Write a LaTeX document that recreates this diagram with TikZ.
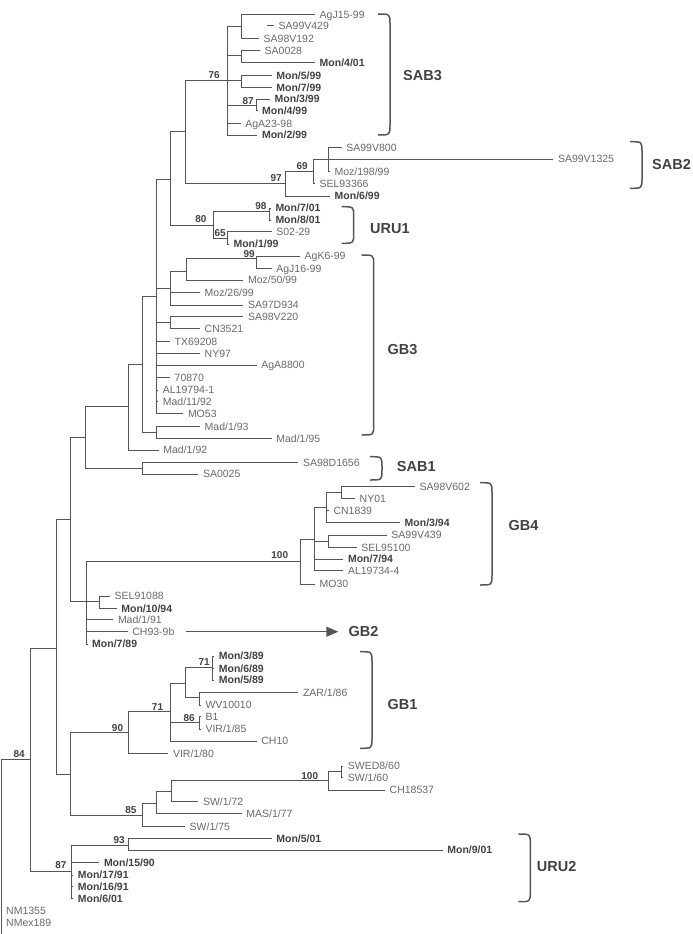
\documentclass[tikz,border=0pt]{standalone}
\usepackage{fontspec}
\setmainfont{Liberation Sans}
\usetikzlibrary{arrows.meta}

\begin{document}
\begin{tikzpicture}[x=1pt, y=-1pt,
    branch/.style={line width=1pt, color=treegray},
    leaf/.style={anchor=west, inner xsep=4.5pt, inner ysep=0pt, text height=7.5pt, text depth=0pt,
        font=\fontsize{10.5}{12}\selectfont, text=leafgray},
    bleaf/.style={leaf, font=\fontsize{10.5}{12}\selectfont\bfseries, text=darkgray},
    boot/.style={anchor=base east, inner sep=0pt, font=\fontsize{10}{12}\selectfont\bfseries, text=darkgray},
    clade/.style={anchor=west, inner sep=0pt, text height=10.4pt, text depth=0pt,
        font=\fontsize{14.5}{17}\selectfont\bfseries, text=darkgray},
    brk/.style={line width=1.5pt, color=treegray, to path={.. controls ([xshift=12pt]\tikztostart)
        .. ([xshift=12pt,yshift=-10pt]\tikztostart) -- ([xshift=12pt,yshift=10pt]\tikztotarget)
        .. controls ([xshift=12pt]\tikztotarget) .. (\tikztotarget)}}]
    \definecolor{treegray}{RGB}{85,85,85}
    \definecolor{leafgray}{RGB}{105,105,105}
    \definecolor{darkgray}{RGB}{65,65,65}

    \useasboundingbox (0,0) rectangle (693,934);

    % inner nodes
    \coordinate (root) at (1.5,759);
    \coordinate (n30) at (30,759);
    \coordinate (n57) at (56.7,648);
    \coordinate (n71a) at (70.7,519);
    \coordinate (n85a) at (85,437);
    \coordinate (n128) at (128.3,406.7);
    \coordinate (n143) at (142.7,364.5);
    \coordinate (n157) at (156.7,296.7);
    \coordinate (n171) at (170.7,179);
    \coordinate (n185) at (185,131.5);
    \coordinate (sab3n) at (227.3,80.5);
    \coordinate (ca) at (241.7,26.7);
    \coordinate (cb) at (241.7,56);
    \coordinate (cc) at (241.7,80.5);
    \coordinate (c87) at (256,105.3);
    \coordinate (sab2n) at (285,183.3);
    \coordinate (c69) at (313.3,171.7);
    \coordinate (c328) at (328.3,159);
    \coordinate (uru1n) at (213.3,225.7);
    \coordinate (c98) at (269.3,211);
    \coordinate (c65) at (227.3,238.3);
    \coordinate (cmoz) at (170,288.3);
    \coordinate (c186) at (186,271);
    \coordinate (c99) at (256.7,258.3);
    \coordinate (csa98) at (170,322.3);
    \coordinate (n157b) at (156.7,432.5);
    \coordinate (sab1n) at (142.7,468.3);
    \coordinate (n86) at (86,601.7);
    \coordinate (gb4n) at (300,561.7);
    \coordinate (c314) at (314,539);
    \coordinate (c327) at (326.7,507);
    \coordinate (c342) at (341.7,492);
    \coordinate (csa99) at (328.3,541);
    \coordinate (csel) at (99.3,601.7);
    \coordinate (n71b) at (70.7,774);
    \coordinate (gb1n) at (128.3,732.7);
    \coordinate (c71) at (170.7,711.7);
    \coordinate (c185) at (185,683);
    \coordinate (c71b) at (212.7,667.3);
    \coordinate (czar) at (199.3,697.5);
    \coordinate (c86) at (199.3,722.7);
    \coordinate (c85) at (142.7,815);
    \coordinate (cmas) at (156.7,803);
    \coordinate (csw72) at (171.7,791.5);
    \coordinate (c100b) at (328.3,780.7);
    \coordinate (c342b) at (341.7,771.7);
    \coordinate (uru2n) at (71.7,871.7);
    \coordinate (c93) at (128.3,845);
    \coordinate (rootend) at (1.5,934);
    \coordinate (sa429s) at (266.7,26);

    % leaves
    \node[leaf] (agj15) at (315,14.3) {AgJ15-99};
    \node[leaf] (sa99v429) at (274,26) {SA99V429};
    \node[leaf] (sa98v192) at (259,38.3) {SA98V192};
    \node[leaf] (sa0028) at (260,50.7) {SA0028};
    \node[bleaf] (mon401) at (315,62.3) {Mon/4/01};
    \node[bleaf] (mon599) at (271.7,75.3) {Mon/5/99};
    \node[bleaf] (mon799) at (271.7,87.3) {Mon/7/99};
    \node[bleaf] (mon399) at (270,99) {Mon/3/99};
    \node[bleaf] (mon499) at (257.5,110.7) {Mon/4/99};
    \node[leaf] (aga2398) at (240.7,123.3) {AgA23-98};
    \node[bleaf] (mon299) at (257.3,135) {Mon/2/99};
    \node[leaf] (sa99v800) at (341.7,147.3) {SA99V800};
    \node[leaf] (sa99v1325) at (553.3,159) {SA99V1325};
    \node[leaf] (moz19899) at (329.8,171.7) {Moz/198/99};
    \node[leaf] (sel93366) at (314.8,183.3) {SEL93366};
    \node[bleaf] (mon699) at (330,196) {Mon/6/99};
    \node[bleaf] (mon701) at (270.8,208) {Mon/7/01};
    \node[bleaf] (mon801) at (270.8,220) {Mon/8/01};
    \node[leaf] (s0229) at (271.7,231.7) {S02-29};
    \node[bleaf] (mon199) at (228.8,244) {Mon/1/99};
    \node[leaf] (agk699) at (300,256) {AgK6-99};
    \node[leaf] (agj1699) at (271.7,268.3) {AgJ16-99};
    \node[leaf] (moz5099) at (243.3,280) {Moz/50/99};
    \node[leaf] (moz2699) at (200,292.3) {Moz/26/99};
    \node[leaf] (sa97d934) at (243.3,305) {SA97D934};
    \node[leaf] (sa98v220) at (243.3,316.7) {SA98V220};
    \node[leaf] (cn3521) at (200,328.3) {CN3521};
    \node[leaf] (tx69208) at (170,341.7) {TX69208};
    \node[leaf] (ny97) at (200,353.3) {NY97};
    \node[leaf] (aga8800) at (256.7,365) {AgA8800};
    \node[leaf] (n70870) at (170,377.7) {70870};
    \node[leaf] (al197941) at (158.2,390) {AL19794-1};
    \node[leaf] (mad1192) at (158.2,401.7) {Mad/11/92};
    \node[leaf] (mo53) at (183.3,413.3) {MO53};
    \node[leaf] (mad193) at (200,426.7) {Mad/1/93};
    \node[leaf] (mad195) at (271.7,438.3) {Mad/1/95};
    \node[leaf] (mad192) at (158.7,450) {Mad/1/92};
    \node[leaf] (sa98d1656) at (298.3,462.7) {SA98D1656};
    \node[leaf] (sa0025) at (198.3,474) {SA0025};
    \node[leaf] (sa98v602) at (415,486.7) {SA98V602};
    \node[leaf] (ny01) at (355,498.3) {NY01};
    \node[leaf] (cn1839) at (328.8,510.7) {CN1839};
    \node[bleaf] (mon394) at (400,522.7) {Mon/3/94};
    \node[leaf] (sa99v439) at (386.7,535) {SA99V439};
    \node[leaf] (sel95100) at (356.7,547.3) {SEL95100};
    \node[bleaf] (mon794) at (343.3,559) {Mon/7/94};
    \node[leaf] (al197344) at (343.3,570.7) {AL19734-4};
    \node[leaf] (mo30) at (315,584) {MO30};
    \node[leaf] (sel91088) at (110,596) {SEL91088};
    \node[bleaf] (mon1094) at (116.7,608.3) {Mon/10/94};
    \node[leaf] (mad191) at (113.3,619.3) {Mad/1/91};
    \node[leaf] (ch939b) at (127.7,631.7) {CH93-9b};
    \node[bleaf] (mon789) at (87.5,644) {Mon/7/89};
    \node[bleaf] (mon389) at (214.2,656) {Mon/3/89};
    \node[bleaf] (mon689) at (214.2,668.3) {Mon/6/89};
    \node[bleaf] (mon589) at (214.2,680) {Mon/5/89};
    \node[leaf] (zar186) at (298.3,692.3) {ZAR/1/86};
    \node[leaf] (wv10010) at (200.8,705) {WV10010};
    \node[leaf] (b1) at (200.8,716.7) {B1};
    \node[leaf] (vir185) at (200.8,729) {VIR/1/85};
    \node[leaf] (ch10) at (256.7,741) {CH10};
    \node[leaf] (vir180) at (168.3,753.3) {VIR/1/80};
    \node[leaf] (swed860) at (343.2,766) {SWED8/60};
    \node[leaf] (sw160) at (343.2,777.3) {SW/1/60};
    \node[leaf] (ch18537) at (385,790) {CH18537};
    \node[leaf] (sw172) at (198.3,801.7) {SW/1/72};
    \node[leaf] (mas177) at (241.7,813.3) {MAS/1/77};
    \node[leaf] (sw175) at (185,826.7) {SW/1/75};
    \node[bleaf] (mon501) at (271.7,838.3) {Mon/5/01};
    \node[bleaf] (mon901) at (442.7,850) {Mon/9/01};
    \node[bleaf] (mon1590) at (99.3,862.7) {Mon/15/90};
    \node[bleaf] (mon1791) at (73.2,875) {Mon/17/91};
    \node[bleaf] (mon1691) at (73.2,886.7) {Mon/16/91};
    \node[bleaf] (mon601) at (73.2,898.7) {Mon/6/01};
    \node[leaf] (nm1355) at (1.5,910.7) {NM1355};
    \node[leaf] (nmex189) at (1.5,922.7) {NMex189};

    % branches
    \begin{scope}[branch]
    \draw (root) -- (n30) (root) -- (rootend);
    \draw (root) |- (nm1355.west) (root) |- (nmex189.west);
    \draw (n30) |- (n57) (n30) |- (uru2n);
    \draw (n57) |- (n71a) (n57) |- (n71b);
    \draw (n71a) |- (n85a) (n71a) |- (n86);
    \draw (n85a) |- (n128) (n85a) |- (sab1n);
    \draw (n128) |- (n143) (n128) |- (mad192.west);
    \draw (n143) |- (n157) (n143) |- (n157b);
    \draw (n157) |- (n171) (n157) |- (cmoz) (n157) |- (csa98);
    \draw (n157) |- (tx69208.west) (n157) |- (ny97.west) (n157) |- (aga8800.west);
    \draw (n157) |- (n70870.west) (n157) |- (al197941.west) (n157) |- (mad1192.west) (n157) |- (mo53.west);
    \draw (n171) |- (n185) (n171) |- (uru1n);
    \draw (n185) |- (sab3n) (n185) |- (sab2n);
    \draw (sab3n) |- (ca) (sab3n) |- (cb) (sab3n) |- (cc) (sab3n) |- (c87);
    \draw (sab3n) |- (aga2398.west) (sab3n) |- (mon299.west);
    \draw (ca) |- (agj15.west) (ca) |- (sa98v192.west) (sa429s) -- (sa99v429.west);
    \draw (cb) |- (sa0028.west) (cb) |- (mon401.west);
    \draw (cc) |- (mon599.west) (cc) |- (mon799.west);
    \draw (c87) |- (mon399.west) (c87) |- (mon499.west);
    \draw (sab2n) |- (c69) (sab2n) |- (mon699.west);
    \draw (c69) |- (c328) (c69) |- (sel93366.west);
    \draw (c328) |- (sa99v800.west) (c328) |- (sa99v1325.west) (c328) |- (moz19899.west);
    \draw (uru1n) |- (c98) (uru1n) |- (c65);
    \draw (c98) |- (mon701.west) (c98) |- (mon801.west);
    \draw (c65) |- (s0229.west) (c65) |- (mon199.west);
    \draw (cmoz) |- (c186) (cmoz) |- (moz2699.west) (cmoz) |- (sa97d934.west);
    \draw (c186) |- (c99) (c186) |- (moz5099.west);
    \draw (c99) |- (agk699.west) (c99) |- (agj1699.west);
    \draw (csa98) |- (sa98v220.west) (csa98) |- (cn3521.west);
    \draw (n157b) |- (mad193.west) (n157b) |- (mad195.west);
    \draw (sab1n) |- (sa98d1656.west) (sab1n) |- (sa0025.west);
    \draw (n86) |- (gb4n) (n86) |- (csel);
    \draw (n86) |- (mad191.west) (n86) |- (ch939b.west) (n86) |- (mon789.west);
    \draw (csel) |- (sel91088.west) (csel) |- (mon1094.west);
    \draw (gb4n) |- (c314) (gb4n) |- (mo30.west);
    \draw (c314) |- (c327) (c314) |- (csa99) (c314) |- (mon794.west) (c314) |- (al197344.west);
    \draw (c327) |- (c342) (c327) |- (cn1839.west) (c327) |- (mon394.west);
    \draw (c342) |- (sa98v602.west) (c342) |- (ny01.west);
    \draw (csa99) |- (sa99v439.west) (csa99) |- (sel95100.west);
    \draw (n71b) |- (gb1n) (n71b) |- (c85);
    \draw (gb1n) |- (c71) (gb1n) |- (vir180.west);
    \draw (c71) |- (c185) (c71) |- (c86) (c71) |- (ch10.west);
    \draw (c185) |- (c71b) (c185) |- (czar);
    \draw (c71b) |- (mon389.west) (c71b) |- (mon689.west) (c71b) |- (mon589.west);
    \draw (czar) |- (zar186.west) (czar) |- (wv10010.west);
    \draw (c86) |- (b1.west) (c86) |- (vir185.west);
    \draw (c85) |- (cmas) (c85) |- (sw175.west);
    \draw (cmas) |- (csw72) (cmas) |- (mas177.west);
    \draw (csw72) |- (c100b) (csw72) |- (sw172.west);
    \draw (c100b) |- (c342b) (c100b) |- (ch18537.west);
    \draw (c342b) |- (swed860.west) (c342b) |- (sw160.west);
    \draw (uru2n) |- (c93) (uru2n) |- (mon1590.west) (uru2n) |- (mon1791.west);
    \draw (uru2n) |- (mon1691.west) (uru2n) |- (mon601.west);
    \draw (c93) |- (mon501.west) (c93) |- (mon901.west);
    \end{scope}

    % bootstrap values
    \node[boot] (b76) at (220,78) {76};
    \node[boot] (b87a) at (254,104) {87};
    \node[boot] (b97) at (282,181) {97};
    \node[boot] (b69) at (308,169.5) {69};
    \node[boot] (b98) at (266.7,209.5) {98};
    \node[boot] (b80) at (206.7,222) {80};
    \node[boot] (b65) at (226,236.5) {65};
    \node[boot] (b99) at (255,257) {99};
    \node[boot] (b100a) at (288.3,558) {100};
    \node[boot] (b71a) at (210,665.5) {71};
    \node[boot] (b71b) at (163.3,710) {71};
    \node[boot] (b86) at (195,721) {86};
    \node[boot] (b90) at (123.3,731) {90};
    \node[boot] (b84) at (25,757) {84};
    \node[boot] (b100b) at (318.3,779) {100};
    \node[boot] (b85) at (136.7,813) {85};
    \node[boot] (b93) at (125,843) {93};
    \node[boot] (b87b) at (66.7,868) {87};

    % clades
    \draw[brk] (378,14) to (378,135);
    \node[clade] (sab3) at (403,75) {SAB3};
    \draw[brk] (630,141.7) to (630,188.3);
    \node[clade] (sab2) at (652,164) {SAB2};
    \draw[brk] (341.7,206.7) to (341.7,243.3);
    \node[clade] (uru1) at (370,228) {URU1};
    \draw[brk] (361.7,255) to (361.7,435);
    \node[clade] (gb3) at (387.3,349) {GB3};
    \draw[brk] (370,456.7) to (370,480);
    \node[clade] (sab1) at (396.7,466) {SAB1};
    \draw[brk] (480,482.7) to (480,585);
    \node[clade] (gb4) at (508.3,525) {GB4};
    \node[clade] (gb2) at (348.3,631.7) {GB2};
    \draw[line width=1.4pt, treegray, -{Triangle[length=12pt,width=10pt]}, shorten <=7pt, shorten >=10pt]
        (ch939b.east) -- (gb2.west);
    \draw[brk] (360,651.7) to (360,748.3);
    \node[clade] (gb1) at (387.3,704) {GB1};
    \draw[brk] (518.3,834) to (518.3,901.7);
    \node[clade] (uru2) at (536.7,866) {URU2};
\end{tikzpicture}
\end{document}
